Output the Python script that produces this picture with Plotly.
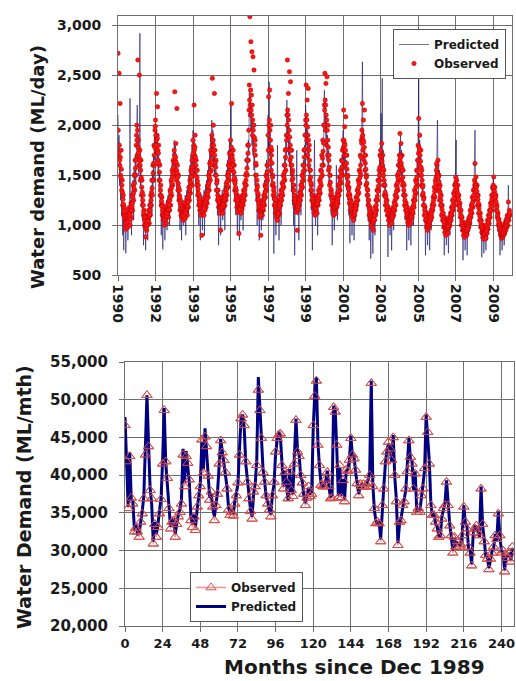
import plotly.graph_objects as go

# ---------------- Top panel: daily water demand (ML/day), sampled 36 times per year ----------------
samples_per_year = 36
year_tick_labels = ["1990", "1992", "1993", "1995", "1997", "1999", "2001", "2003", "2005", "2007", "2009"]

# readings at the start of each ~10-day step
daily_observed = [
    2717, 1800, 2517, 1650, 2217, 1500, 1750, 1350, 1450, 1200, 1300, 1100, 1180, 1000, 1120, 960, 1080, 1020, 1150, 980, 1100, 1050, 1180, 1000, 1130, 1220, 1080, 1300, 1150, 1400, 1250, 1500, 1350, 1650, 1500, 1800,
    2000, 1700, 2650, 1850, 1600, 2500, 1750, 1450, 1650, 1300, 1450, 1200, 1300, 1100, 1150, 1000, 1080, 883, 1050, 950, 1100, 1000, 1060, 1150, 1020, 1200, 1100, 1300, 1200, 1450, 1300, 1600, 1450, 1800, 1600, 1950,
    2050, 1750, 2317, 1900, 2183, 1650, 1800, 1450, 1600, 1300, 1400, 1200, 1280, 1100, 1200, 1050, 1150, 1000, 1120, 1060, 1180, 1020, 1150, 1100, 1220, 1080, 1250, 1150, 1350, 1200, 1450, 1300, 1550, 1400, 1650, 1500,
    1750, 2333, 1550, 1817, 1450, 2167, 1600, 1350, 1500, 1250, 1350, 1150, 1250, 1100, 1200, 1080, 1180, 1050, 1150, 1100, 1220, 1070, 1180, 1130, 1250, 1100, 1280, 1180, 1380, 1250, 1450, 1320, 1550, 1400, 1650, 1500,
    1850, 1600, 2200, 1700, 1900, 1500, 1650, 1400, 1550, 1300, 1400, 1200, 1300, 1150, 1250, 1100, 1220, 900, 1180, 1120, 1260, 1100, 1230, 1150, 1280, 1180, 1320, 1220, 1400, 1280, 1500, 1350, 1620, 1450, 1750, 1550,
    1900, 2467, 1700, 2000, 1600, 2317, 1750, 1500, 1650, 1350, 1450, 1250, 1350, 1180, 1280, 1120, 1250, 950, 1200, 1150, 1280, 1120, 1250, 1180, 1300, 1200, 1350, 1250, 1420, 1300, 1500, 1380, 1600, 1450, 1720, 1550,
    1850, 1600, 2217, 1700, 1550, 1750, 1450, 1600, 1350, 1450, 1250, 1350, 1180, 1300, 1130, 1250, 917, 1200, 1150, 1280, 1120, 1230, 1160, 1300, 1200, 1350, 1250, 1420, 1300, 1500, 1400, 1650, 1500, 1800, 1650, 1950,
    2400, 3083, 2100, 2833, 2300, 2733, 1900, 2683, 2000, 2550, 1750, 1850, 1500, 1600, 1350, 1400, 1250, 1300, 1150, 1200, 1080, 1150, 900, 1120, 1200, 1100, 1250, 1150, 1300, 1200, 1400, 1280, 1500, 1350, 1600, 1450,
    1900, 2283, 1750, 2350, 1650, 2000, 1550, 1750, 1400, 1500, 1300, 1380, 1200, 1280, 1120, 1220, 1080, 1180, 1050, 1150, 1100, 1250, 1120, 1300, 1200, 1350, 1250, 1420, 1300, 1500, 1380, 1600, 1450, 1750, 1550, 1900,
    2100, 2650, 1900, 2317, 1750, 2533, 1650, 2433, 1600, 1750, 1450, 1550, 1350, 1400, 1250, 1300, 1180, 1250, 1130, 1220, 950, 1200, 1150, 1280, 1200, 1330, 1250, 1400, 1300, 1500, 1380, 1600, 1450, 1750, 1550, 1900,
    2050, 2400, 1850, 2250, 1700, 2367, 1600, 1800, 1450, 1550, 1350, 1400, 1250, 1300, 1180, 1270, 1130, 1230, 1100, 1200, 1150, 1280, 1120, 1300, 1200, 1350, 1250, 1450, 1320, 1550, 1400, 1700, 1500, 1850, 1600, 2000,
    2200, 2517, 1950, 2417, 1800, 2483, 1700, 2000, 1550, 1700, 1400, 1500, 1300, 1350, 1200, 1280, 1150, 1250, 1100, 1220, 1150, 1280, 1120, 1250, 1180, 1320, 1220, 1400, 1300, 1480, 1350, 1550, 1420, 1650, 1500, 1750,
    1850, 2150, 1700, 1983, 1600, 2083, 1500, 1700, 1400, 1500, 1300, 1380, 1220, 1300, 1150, 1250, 1100, 1200, 1080, 1180, 1050, 1150, 1100, 1220, 1150, 1280, 1200, 1350, 1250, 1450, 1320, 1550, 1420, 1700, 1500, 1850,
    1950, 2217, 1750, 2050, 1650, 2150, 1550, 1700, 1400, 1500, 1300, 1350, 1200, 1250, 1100, 1180, 1050, 1150, 1000, 1120, 980, 1080, 950, 1100, 1050, 1180, 1100, 1250, 1150, 1350, 1250, 1450, 1350, 1550, 1450, 1700,
    1750, 1550, 1817, 1500, 1700, 1400, 1550, 1300, 1400, 1200, 1300, 1150, 1250, 1100, 1180, 1050, 1150, 1000, 1120, 1050, 1150, 1020, 1120, 1080, 1180, 1100, 1230, 1150, 1300, 1200, 1400, 1280, 1500, 1350, 1600, 1450,
    1700, 1917, 1550, 1817, 1450, 1700, 1400, 1550, 1300, 1400, 1200, 1300, 1150, 1220, 1080, 1180, 1030, 1130, 1000, 1100, 1050, 1150, 1020, 1120, 1080, 1180, 1120, 1250, 1180, 1350, 1250, 1450, 1320, 1550, 1400, 1650,
    1800, 2067, 1600, 1900, 1500, 1750, 1400, 1550, 1300, 1400, 1200, 1280, 1100, 1180, 1050, 1120, 980, 1080, 950, 1050, 980, 1100, 1000, 1120, 1050, 1150, 1080, 1200, 1150, 1280, 1200, 1380, 1280, 1450, 1350, 1550,
    1600, 1400, 1650, 1350, 1500, 1250, 1400, 1200, 1300, 1100, 1200, 1050, 1120, 980, 1080, 930, 1050, 900, 1020, 950, 1060, 920, 1040, 980, 1080, 1000, 1120, 1050, 1180, 1100, 1250, 1150, 1320, 1200, 1400, 1280,
    1480, 1300, 1450, 1250, 1400, 1200, 1300, 1150, 1220, 1080, 1150, 1000, 1080, 950, 1030, 900, 1000, 880, 980, 920, 1020, 900, 1000, 950, 1050, 980, 1080, 1020, 1150, 1080, 1200, 1120, 1280, 1180, 1350, 1250,
    1450, 1617, 1350, 1483, 1300, 1400, 1200, 1300, 1120, 1200, 1050, 1120, 980, 1050, 930, 1000, 880, 980, 860, 950, 900, 1000, 870, 980, 920, 1050, 960, 1100, 1020, 1150, 1080, 1220, 1150, 1300, 1200, 1380,
    1400, 1483, 1300, 1380, 1250, 1300, 1150, 1200, 1080, 1120, 1000, 1060, 950, 1020, 900, 980, 870, 950, 880, 960, 900, 1000, 920, 1030, 950, 1060, 980, 1100, 1000, 1233, 1050, 1150, 1100,
]

# readings half-way through each ~10-day step
daily_observed_mid = [
    1950, 1720, 1800, 1600, 1680, 1480, 1560, 1400, 1330, 1260, 1210, 1140, 1090, 1060, 1040, 1020, 1050, 1090, 1060, 1040, 1070, 1110, 1090, 1060, 1170, 1150, 1190, 1220, 1280, 1320, 1370, 1420, 1500, 1570, 1650, 1900,
    1850, 1950, 1780, 1720, 1680, 1650, 1600, 1550, 1480, 1380, 1330, 1250, 1200, 1130, 1080, 1040, 990, 970, 1000, 1030, 1050, 1040, 1090, 1090, 1110, 1150, 1200, 1250, 1330, 1370, 1450, 1520, 1620, 1700, 1780, 1990,
    1900, 1850, 1800, 1870, 1750, 1720, 1620, 1530, 1450, 1350, 1300, 1240, 1190, 1150, 1120, 1100, 1070, 1060, 1090, 1120, 1100, 1090, 1120, 1160, 1150, 1160, 1200, 1250, 1280, 1330, 1370, 1420, 1480, 1520, 1580, 1630,
    1700, 1650, 1680, 1630, 1550, 1520, 1480, 1420, 1380, 1300, 1280, 1220, 1190, 1160, 1140, 1130, 1110, 1100, 1130, 1160, 1140, 1120, 1150, 1190, 1170, 1190, 1230, 1280, 1310, 1350, 1380, 1430, 1480, 1530, 1580, 1700,
    1720, 1800, 1750, 1780, 1680, 1600, 1550, 1480, 1440, 1360, 1320, 1260, 1230, 1200, 1180, 1170, 1150, 1140, 1160, 1190, 1180, 1170, 1200, 1220, 1230, 1250, 1270, 1310, 1340, 1390, 1420, 1480, 1530, 1600, 1650, 1720,
    1800, 1850, 1850, 1800, 1750, 1700, 1620, 1580, 1500, 1420, 1350, 1300, 1270, 1230, 1200, 1190, 1180, 1170, 1180, 1210, 1200, 1190, 1210, 1240, 1250, 1270, 1300, 1330, 1360, 1400, 1440, 1490, 1530, 1590, 1640, 1700,
    1720, 1780, 1680, 1620, 1650, 1600, 1530, 1480, 1420, 1380, 1320, 1280, 1250, 1220, 1200, 1180, 1170, 1160, 1210, 1220, 1190, 1200, 1230, 1250, 1280, 1300, 1330, 1360, 1400, 1450, 1520, 1570, 1650, 1720, 1800, 2150,
    2250, 2200, 2350, 2150, 2100, 2200, 2050, 1950, 2000, 1880, 1800, 1700, 1620, 1500, 1450, 1380, 1320, 1260, 1220, 1180, 1150, 1120, 1100, 1150, 1160, 1170, 1200, 1220, 1260, 1300, 1330, 1380, 1420, 1480, 1530, 1600,
    1750, 2000, 2050, 1950, 1850, 1780, 1700, 1620, 1480, 1420, 1350, 1320, 1260, 1210, 1180, 1160, 1130, 1110, 1100, 1120, 1170, 1180, 1200, 1230, 1260, 1290, 1330, 1360, 1400, 1440, 1480, 1530, 1600, 1680, 1760, 1850,
    2000, 2150, 2100, 2050, 1950, 1880, 1800, 1750, 1680, 1600, 1520, 1470, 1400, 1350, 1300, 1260, 1230, 1200, 1180, 1190, 1170, 1190, 1220, 1240, 1260, 1290, 1320, 1360, 1400, 1440, 1490, 1540, 1600, 1680, 1760, 1900,
    2000, 2100, 2050, 1980, 1900, 1850, 1750, 1650, 1550, 1480, 1420, 1350, 1300, 1260, 1230, 1210, 1190, 1170, 1160, 1170, 1200, 1210, 1220, 1250, 1280, 1300, 1340, 1380, 1430, 1480, 1540, 1600, 1670, 1740, 1820, 2000,
    2150, 2250, 2200, 2100, 2050, 1950, 1850, 1780, 1650, 1580, 1500, 1430, 1360, 1320, 1270, 1240, 1200, 1180, 1170, 1180, 1210, 1200, 1190, 1210, 1240, 1270, 1300, 1340, 1380, 1420, 1450, 1490, 1530, 1580, 1640, 1750,
    1780, 1850, 1820, 1800, 1750, 1700, 1620, 1560, 1480, 1430, 1360, 1320, 1280, 1240, 1210, 1190, 1160, 1140, 1130, 1120, 1100, 1110, 1140, 1170, 1200, 1230, 1260, 1300, 1340, 1380, 1420, 1470, 1530, 1600, 1680, 1820,
    1880, 1900, 1850, 1830, 1780, 1700, 1620, 1560, 1480, 1420, 1360, 1300, 1250, 1200, 1160, 1130, 1100, 1080, 1060, 1050, 1040, 1030, 1040, 1060, 1100, 1130, 1170, 1200, 1250, 1290, 1340, 1390, 1440, 1500, 1580, 1700,
    1680, 1650, 1640, 1600, 1560, 1500, 1450, 1400, 1330, 1280, 1240, 1210, 1180, 1150, 1120, 1100, 1080, 1070, 1080, 1090, 1080, 1070, 1090, 1120, 1140, 1160, 1190, 1220, 1260, 1300, 1340, 1380, 1420, 1470, 1520, 1600,
    1650, 1700, 1680, 1620, 1580, 1550, 1480, 1420, 1350, 1300, 1250, 1220, 1180, 1150, 1120, 1100, 1080, 1060, 1050, 1070, 1090, 1080, 1070, 1090, 1120, 1140, 1180, 1210, 1250, 1290, 1330, 1380, 1430, 1480, 1540, 1650,
    1720, 1780, 1750, 1700, 1640, 1580, 1500, 1450, 1380, 1320, 1260, 1200, 1150, 1120, 1090, 1060, 1030, 1010, 1000, 1010, 1030, 1040, 1060, 1080, 1100, 1120, 1150, 1180, 1220, 1250, 1300, 1340, 1380, 1420, 1480, 1620,
    1520, 1500, 1480, 1430, 1380, 1330, 1290, 1250, 1200, 1160, 1120, 1080, 1050, 1030, 1000, 980, 970, 960, 970, 990, 980, 980, 1000, 1020, 1030, 1050, 1080, 1110, 1140, 1170, 1200, 1240, 1270, 1310, 1350, 1420,
    1400, 1380, 1350, 1320, 1300, 1260, 1220, 1190, 1150, 1110, 1080, 1040, 1010, 990, 970, 950, 940, 930, 950, 960, 960, 950, 970, 1000, 1010, 1030, 1050, 1080, 1110, 1140, 1170, 1200, 1230, 1270, 1300, 1360,
    1400, 1420, 1400, 1380, 1340, 1300, 1260, 1220, 1170, 1130, 1090, 1050, 1020, 990, 970, 950, 930, 920, 910, 920, 950, 940, 930, 950, 980, 1000, 1030, 1060, 1090, 1120, 1150, 1190, 1230, 1260, 1300, 1370,
    1360, 1380, 1340, 1310, 1280, 1230, 1180, 1140, 1100, 1060, 1030, 1000, 980, 960, 940, 920, 910, 910, 920, 930, 950, 960, 980, 990, 1000, 1020, 1040, 1050, 1070, 1090, 1100, 1120,
]

daily_predicted = [
    2100, 1650, 1900, 1400, 1700, 1250, 1500, 1100, 1250, 900, 1150, 750, 1100, 1000, 1150, 720, 1050, 950, 1150, 850, 1100, 1000, 1200, 2267, 1050, 1250, 900, 1350, 1150, 1450, 1050, 1550, 1300, 1700, 1400, 1850,
    1950, 2200, 1700, 1900, 1500, 1750, 2917, 1400, 1600, 1200, 1400, 1050, 1250, 800, 1100, 950, 1150, 750, 1050, 1000, 1100, 850, 1150, 1050, 1250, 1000, 1300, 1150, 1400, 1100, 1550, 1350, 1700, 1450, 1900, 1650,
    2000, 1800, 1950, 1600, 1850, 1500, 1700, 1350, 1550, 1200, 1400, 900, 1250, 1100, 760, 1150, 1050, 1200, 850, 1150, 1100, 1250, 950, 1200, 1300, 1100, 1350, 1000, 1450, 1250, 1550, 1350, 1650, 1450, 1750, 1550,
    1850, 1600, 1800, 1450, 1700, 1350, 1550, 1250, 1450, 1150, 1350, 950, 1250, 1150, 850, 1200, 1100, 1250, 1000, 1200, 1150, 1300, 900, 1250, 1350, 1150, 1400, 1100, 1500, 1300, 1600, 1350, 1700, 1450, 1800, 1550,
    1950, 1650, 1850, 1500, 1750, 1400, 1600, 1300, 1500, 1200, 1400, 1000, 1300, 1200, 850, 1250, 1150, 1300, 950, 1250, 1200, 1350, 900, 1300, 1400, 1150, 1450, 1250, 1550, 1350, 1650, 1400, 1750, 1500, 1900, 1650,
    2050, 1750, 1950, 1600, 1850, 1500, 1700, 1400, 1550, 1250, 1450, 1100, 1350, 800, 1250, 1200, 1300, 900, 1250, 1150, 1350, 1050, 1300, 1200, 1400, 950, 1450, 1300, 1550, 1250, 1650, 1400, 1750, 1500, 1850, 1650,
    1900, 2200, 1650, 1800, 1500, 1700, 1400, 1550, 1250, 1450, 1100, 1350, 1250, 900, 1300, 1150, 1250, 850, 1200, 1300, 1050, 1250, 1200, 1350, 950, 1300, 1400, 1200, 1450, 1300, 1550, 1450, 1700, 1550, 1850, 1700,
    2350, 2100, 2300, 1950, 2200, 1800, 2050, 1700, 1850, 1550, 1700, 1400, 1500, 1250, 1350, 1000, 1250, 1150, 1300, 850, 1200, 1100, 1250, 950, 1150, 1300, 1050, 1350, 1250, 1450, 1200, 1550, 1400, 1650, 1500, 1800,
    2100, 1750, 2433, 1700, 1950, 1500, 1750, 1400, 1550, 1250, 1400, 717, 1300, 1150, 1250, 900, 1200, 1100, 1800, 1050, 1150, 850, 1250, 1200, 1300, 1000, 1400, 1250, 1450, 1350, 1550, 1400, 1700, 1500, 1850, 1650,
    2250, 1850, 2150, 1700, 2000, 1600, 1850, 1500, 1700, 1350, 1550, 1200, 1400, 1000, 1300, 700, 1250, 1150, 1300, 1750, 1200, 1100, 1300, 850, 1250, 1200, 1350, 1100, 1450, 1300, 1550, 1400, 1650, 1500, 1800, 1600,
    2200, 1800, 2100, 1650, 1950, 1550, 1800, 1450, 1600, 1300, 1500, 1150, 1350, 750, 1300, 1200, 1250, 1850, 1200, 1000, 1250, 1150, 1300, 900, 1250, 1300, 1200, 1400, 1300, 1500, 1350, 1600, 1500, 1750, 1600, 1900,
    2350, 1950, 2250, 1800, 2100, 1650, 1900, 1550, 1750, 1400, 1600, 1250, 1450, 1100, 1350, 800, 1300, 1200, 1250, 950, 1200, 1300, 1150, 1600, 1250, 1050, 1300, 1250, 1400, 1200, 1500, 1350, 1600, 1450, 1700, 1550,
    1950, 1650, 1850, 1550, 1750, 1450, 1650, 1350, 1500, 1250, 1400, 1100, 1300, 820, 1250, 1150, 1200, 900, 1150, 1100, 1200, 850, 1150, 1250, 1050, 1300, 1200, 1350, 1150, 1450, 1350, 1550, 1450, 1700, 1550, 1850,
    2050, 2633, 1800, 1950, 1650, 1800, 1500, 1650, 1350, 1500, 1200, 1350, 1050, 1250, 850, 1150, 1100, 667, 1050, 1000, 1100, 717, 1050, 1000, 1150, 900, 1200, 1150, 1300, 1100, 1400, 1300, 1550, 1400, 1650, 1500,
    1850, 2117, 1700, 2467, 1600, 1750, 1450, 1600, 1300, 1450, 1200, 1350, 1100, 1250, 683, 1150, 1050, 1200, 900, 1100, 1150, 750, 1100, 1050, 1200, 950, 1250, 1150, 1350, 1200, 1450, 1300, 1550, 1400, 1650, 1500,
    1800, 1600, 1900, 1500, 1750, 1400, 1600, 1300, 1450, 1200, 1350, 1050, 1250, 1150, 750, 1150, 1100, 1200, 850, 1100, 1050, 1150, 800, 1100, 1150, 1050, 1250, 1000, 1300, 1200, 1400, 1250, 1500, 1350, 1650, 1450,
    1900, 2483, 1650, 1850, 1550, 1700, 1400, 1550, 1300, 1400, 1150, 1300, 1050, 1200, 700, 1100, 1000, 1150, 800, 1050, 1000, 1100, 750, 1050, 1100, 950, 1150, 1050, 1250, 1150, 1350, 1250, 1450, 1350, 1600, 1450,
    1700, 2050, 1500, 1650, 1400, 1550, 1300, 1450, 1200, 1350, 1100, 1200, 1000, 1100, 700, 1050, 950, 1100, 800, 1000, 950, 1050, 720, 1000, 1050, 900, 1100, 1000, 1150, 1050, 1250, 1150, 1350, 1250, 1450, 1350,
    1550, 1850, 1400, 1500, 1300, 1400, 1200, 1300, 1100, 1200, 1000, 1100, 950, 1050, 650, 1000, 900, 1050, 750, 950, 900, 1000, 700, 950, 1000, 900, 1050, 950, 1100, 1000, 1200, 1100, 1300, 1200, 1400, 1300,
    1500, 1950, 1400, 1500, 1300, 1400, 1200, 1300, 1100, 1200, 1000, 1100, 900, 1000, 680, 950, 850, 1000, 720, 950, 900, 1000, 750, 950, 1000, 850, 1050, 950, 1100, 1000, 1200, 1100, 1300, 1200, 1400, 1300,
    1467, 1300, 1400, 1250, 1300, 1150, 1200, 1050, 1100, 950, 1050, 900, 1000, 700, 950, 900, 1000, 750, 950, 900, 1000, 800, 950, 1000, 900, 1050, 950, 1100, 1000, 1400, 1050, 1150, 1100,
]

# ---------------- Bottom panel: monthly water demand (ML/mth), month 0 = Dec 1989 ----------------
monthly_observed = [
    46600, 41800, 35600, 42500, 37000, 36200, 32500, 33000, 32500, 31800, 33800, 34900,
    36900, 42700, 50600, 43800, 38000, 36900, 30900, 33500, 31800, 33100, 34900, 36800,
    41500, 48600, 41800, 39600, 35600, 32900, 33800, 34000, 31800, 33500, 34500, 35100,
    36200, 42700, 38500, 42500, 41600, 39400, 34000, 33100, 34500, 32700, 35800, 37300,
    38500, 44700, 40300, 45100, 43800, 39900, 36700, 37800, 35800, 34000, 36000, 37500,
    41500, 44600, 43000, 42000, 40400, 38200, 35400, 34700, 35100, 34600, 36200, 37300,
    39000, 42700, 47500, 48000, 46600, 41800, 39100, 36900, 35200, 34200, 37800, 38500,
    41300, 51300, 48600, 44900, 40400, 39100, 37300, 36200, 35400, 34500, 37300, 39100,
    43100, 44900, 45300, 45500, 41300, 38200, 40400, 39100, 36900, 40500, 38000, 37200,
    41500, 47300, 43100, 42500, 40000, 39000, 37500, 36000, 37000, 38500, 37200, 37500,
    46600, 50500, 52500, 44000, 41300, 38700, 38500, 38500, 39500, 40400, 38500, 36900,
    37000, 49000, 48400, 44000, 37000, 41300, 37000, 39300, 36500, 40700, 40500, 42000,
    44900, 42700, 42200, 40700, 38900, 37300, 38800, 38500, 38800, 38400, 38800, 39000,
    40000, 52200, 38500, 35600, 33600, 33800, 33600, 31200, 36000, 38200, 41800, 43100,
    44400, 43500, 42000, 45000, 40000, 36500, 30700, 33800, 34000, 36000, 36500, 38200,
    40500, 44600, 42400, 41500, 38200, 40200, 35100, 35600, 35100, 37300, 38200, 40900,
    47700, 45700, 41500, 36000, 34700, 34700, 33800, 32900, 31800, 32000, 34200, 35600,
    36000, 39100, 36000, 33300, 32000, 29700, 31800, 30500, 31200, 30500, 30800, 32000,
    35800, 33800, 32900, 30500, 29700, 28000, 32400, 32900, 33300, 32400, 32000, 38200,
    33500, 31200, 29400, 28900, 27500, 28900, 29700, 30500, 32000, 31500, 34900, 32000,
    29700, 30000, 27200, 29400, 29000, 29700, 28500, 30500,
]

monthly_predicted = [
    47700, 40500, 35800, 43000, 36800, 36500, 32800, 33500, 32200, 32300, 33500, 35200,
    37200, 43500, 50600, 44200, 38300, 36200, 31200, 33800, 32200, 33500, 35200, 37000,
    42000, 48900, 41500, 39000, 35300, 33200, 33500, 34300, 32200, 33800, 34800, 35500,
    36800, 43500, 39000, 43200, 41000, 39000, 34500, 33500, 34800, 33200, 35500, 37000,
    38800, 44400, 40800, 46200, 43500, 39500, 37000, 37500, 35500, 34500, 36300, 37800,
    41200, 44800, 43200, 41700, 40000, 38500, 35700, 35000, 35400, 34800, 36500, 37500,
    38800, 43500, 47600, 48000, 46300, 41500, 39300, 37200, 35500, 34500, 37500, 38800,
    42000, 53000, 48300, 44600, 40800, 39300, 37000, 36500, 35200, 34800, 37500, 38800,
    42800, 44600, 45800, 45300, 41000, 38500, 40600, 38800, 36600, 40800, 37800, 37500,
    42000, 47500, 43300, 42800, 39800, 39200, 37300, 36300, 37200, 38300, 37500, 37800,
    46200, 50800, 53000, 44300, 41000, 38900, 38200, 38800, 39300, 40600, 38300, 37200,
    37300, 49200, 48700, 43600, 37300, 41000, 37300, 39500, 36800, 40500, 40800, 41800,
    45200, 42500, 42500, 40400, 39200, 37500, 38600, 38800, 38500, 38700, 38600, 39300,
    40300, 52500, 38800, 35300, 33900, 33500, 33900, 31500, 35700, 38500, 41500, 43400,
    44100, 43800, 41800, 45300, 39700, 36800, 31000, 33500, 34300, 35800, 36800, 38000,
    40800, 44900, 42100, 41800, 38000, 40500, 35300, 35400, 35400, 37000, 38500, 40700,
    48000, 45400, 41800, 36300, 34500, 35000, 33500, 33200, 32000, 31800, 34500, 35400,
    36300, 39300, 35800, 33500, 31800, 30000, 31600, 30800, 31000, 30800, 30600, 32300,
    36000, 33600, 33200, 30300, 30000, 28200, 32200, 33200, 33100, 32600, 31800, 38500,
    33300, 31500, 29200, 29100, 27700, 28700, 29900, 30300, 32200, 31300, 35200, 31800,
    30000, 29800, 27400, 29200, 29300, 29500, 28800, 30300,
]
month_tick_step = 24

# ---------------- Build figure ----------------
FONT = "DejaVu Sans"
INK = "#1a1a1a"
GRID = "#6e6e6e"

obs_x = [i / samples_per_year for i in range(len(daily_observed))]
mid_x = [(i + 0.5) / samples_per_year for i in range(len(daily_observed_mid))]
pred_x = [i / samples_per_year for i in range(len(daily_predicted))]
month_x = list(range(len(monthly_observed)))

fig = go.Figure()

fig.add_trace(go.Scatter(
    x=pred_x, y=daily_predicted, mode="lines", name="Predicted",
    line=dict(color="rgba(25,25,110,0.62)", width=1),
    xaxis="x", yaxis="y", legend="legend"))
fig.add_trace(go.Scatter(
    x=obs_x + mid_x, y=daily_observed + daily_observed_mid, mode="markers", name="Observed",
    marker=dict(color="#ff1414", size=4.5, line=dict(color="#a00000", width=0.4)),
    xaxis="x", yaxis="y", legend="legend"))

tri = dict(symbol="triangle-up-open", size=9, color="#d8504c", line=dict(width=1))
fig.add_trace(go.Scatter(
    x=month_x, y=monthly_observed, mode="lines+markers", name="Observed",
    line=dict(color="#ff9090", width=1.5), marker=tri,
    xaxis="x2", yaxis="y2", legend="legend2"))
fig.add_trace(go.Scatter(
    x=month_x, y=monthly_predicted, mode="lines", name="Predicted",
    line=dict(color="#000080", width=3),
    xaxis="x2", yaxis="y2", legend="legend2"))
fig.add_trace(go.Scatter(
    x=month_x, y=monthly_observed, mode="markers", name="Observed", showlegend=False,
    marker=tri, xaxis="x2", yaxis="y2"))

W, H = 516, 681

def px_x(p):
    return p / W

def px_y(p):
    return 1 - p / H

axis_common = dict(
    showgrid=True, gridcolor=GRID, gridwidth=1,
    showline=True, linecolor=GRID, linewidth=1, mirror=True,
    ticks="outside", ticklen=5, tickcolor=GRID,
    zeroline=False, automargin=False,
)

fig.update_layout(
    width=W, height=H,
    margin=dict(l=0, r=0, t=0, b=0),
    paper_bgcolor="white", plot_bgcolor="white",
    font=dict(family=FONT, color=INK),
    xaxis=dict(
        domain=[px_x(118), px_x(512)], anchor="y",
        range=[0, 21.0],
        tickmode="array",
        tickvals=[2 * k for k in range(len(year_tick_labels))],
        ticktext=year_tick_labels,
        tickangle=90,
        tickfont=dict(family=FONT, size=14, color=INK, weight="bold"),
        ticklabelstandoff=0,
        **axis_common),
    yaxis=dict(
        domain=[px_y(275.3), px_y(15.7)], anchor="x",
        range=[500, 3093],
        tickmode="linear", tick0=500, dtick=500, tickformat=",d",
        tickfont=dict(family=FONT, size=14, color=INK, weight="bold"),
        ticklabelstandoff=8,
        **axis_common),
    xaxis2=dict(
        domain=[px_x(125), px_x(514)], anchor="y2",
        range=[0, 248],
        tickmode="linear", tick0=0, dtick=month_tick_step,
        tickfont=dict(family=FONT, size=13, color=INK, weight="bold"),
        ticklabelstandoff=0,
        ticklabeloverflow="allow",
        **axis_common),
    yaxis2=dict(
        domain=[px_y(626), px_y(362)], anchor="x2",
        range=[20000, 55000],
        tickmode="linear", tick0=20000, dtick=5000, tickformat=",d",
        tickfont=dict(family=FONT, size=15, color=INK, weight="bold"),
        ticklabelstandoff=8,
        **axis_common),
    legend=dict(
        x=px_x(506), y=px_y(29), xanchor="right", yanchor="top",
        bgcolor="white", bordercolor="#555", borderwidth=1,
        font=dict(family=FONT, size=12, color=INK, weight="bold"),
        tracegroupgap=0, itemwidth=30),
    legend2=dict(
        x=px_x(190), y=px_y(572), xanchor="left", yanchor="top",
        bgcolor="white", bordercolor="#555", borderwidth=1,
        font=dict(family=FONT, size=12, color=INK, weight="bold"),
        tracegroupgap=0, itemwidth=30),
    annotations=[
        dict(text="Water demand (ML/day)", x=px_x(37), y=px_y(167), xref="paper", yref="paper",
             textangle=-90, showarrow=False, xanchor="center", yanchor="middle",
             font=dict(family=FONT, size=18, color=INK, weight="bold")),
        dict(text="Water Demand (ML/mth)", x=px_x(24), y=px_y(497), xref="paper", yref="paper",
             textangle=-90, showarrow=False, xanchor="center", yanchor="middle",
             font=dict(family=FONT, size=19, color=INK, weight="bold")),
        dict(text="Months since Dec 1989", x=px_x(354), y=px_y(667), xref="paper", yref="paper",
             showarrow=False, xanchor="center", yanchor="middle",
             font=dict(family=FONT, size=20, color=INK, weight="bold")),
    ],
)

# the page's default body margin would push the 516x681 figure off the window edge
fig.write_html("out.html", config={"displayModeBar": False},
               post_script="document.body.style.margin='0';")
